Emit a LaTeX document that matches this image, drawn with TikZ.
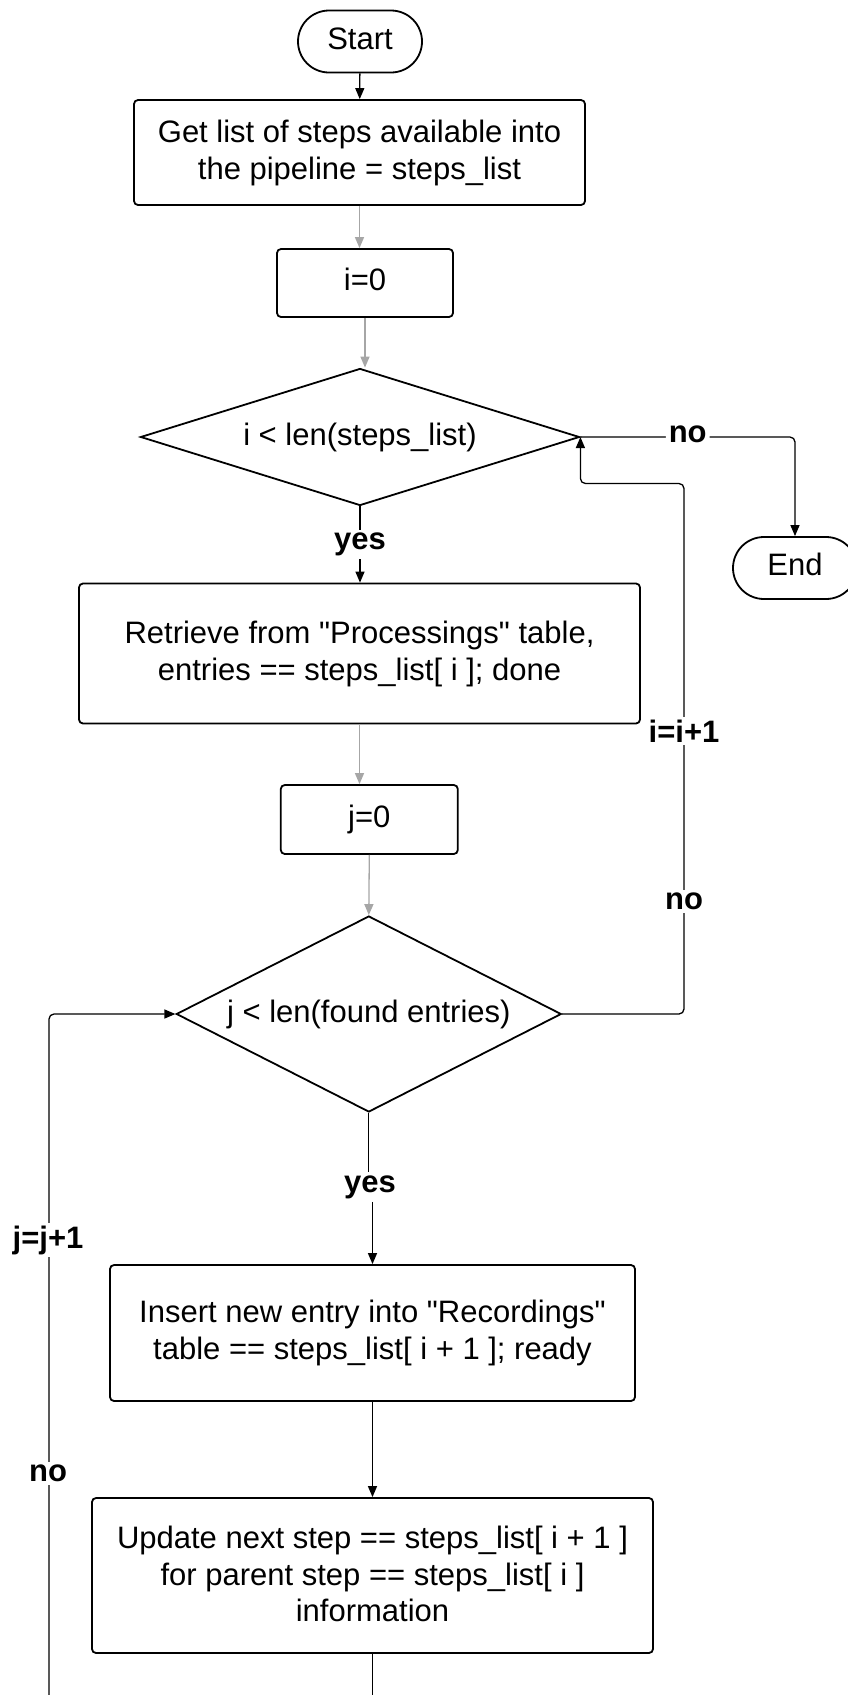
\documentclass[tikz,border=0pt]{standalone}
\usepackage{fontspec}
\setmainfont{Liberation Sans}[Ligatures=TeXOff]
\usetikzlibrary{shapes.geometric,arrows.meta}
\definecolor{arrowgray}{HTML}{A6A6A6}
\begin{document}
\begin{tikzpicture}[x=1pt,y=-1pt,
  every node/.style={font=\fontsize{31}{37}\selectfont},
  stepbox/.style={draw, line width=1.8pt, rounded corners=4pt, align=center, inner sep=0pt},
  oneline/.style={text height=23pt, text depth=8pt},
  terminal/.style={draw, line width=1.8pt, rounded corners=31pt, minimum width=124pt, minimum height=62pt, inner sep=0pt, oneline},
  decision/.style={draw, diamond, line width=1.8pt, inner sep=0pt, align=center},
  flow/.style={line width=1.3pt, -{Triangle[length=11pt,width=9pt]}},
  soft/.style={flow, draw=arrowgray},
  plain/.style={line width=1.3pt},
  lbl/.style={fill=white, font=\bfseries\fontsize{31}{37}\selectfont, inner sep=3pt}
]
\useasboundingbox (0,0) rectangle (848,1695);
\clip (0,0) rectangle (848,1695);

% nodes
\node[terminal] (start) at (360,41.5) {Start};
\node[stepbox, minimum width=451pt, minimum height=105pt] (getlist) at (359.5,152.5)
  {Get list of steps available into\\the pipeline = steps\_list};
\node[stepbox, oneline, minimum width=176pt, minimum height=68pt] (iinit) at (365,283) {i=0};
\node[decision, minimum width=439pt, minimum height=137pt, aspect=3.2] (iloop) at (360,437)
  {i < len(steps\_list)};
\node[terminal] (endn) at (795,568) {End};
\node[stepbox, minimum width=561pt, minimum height=140pt] (retrieve) at (359.5,653.5)
  {Retrieve from "Processings" table,\\entries == steps\_list[ i ]; done};
\node[stepbox, oneline, minimum width=177pt, minimum height=69pt] (jinit) at (369.3,819.5) {j=0};
\node[decision, minimum width=385pt, minimum height=196pt, aspect=2] (jloop) at (368.8,1014)
  {j < len(found entries)};
\node[stepbox, minimum width=525pt, minimum height=136pt] (insert) at (372.5,1333)
  {Insert new entry into "Recordings"\\table == steps\_list[ i + 1 ]; ready};
\node[stepbox, minimum width=561pt, minimum height=155pt, font=\fontsize{31}{36.6}\selectfont] (update) at (372.5,1575.5)
  {Update next step == steps\_list[ i + 1 ]\\for parent step == steps\_list[ i ]\\information\rule[-3pt]{0pt}{0pt}};

\coordinate (iret) at (684,483.5);
\coordinate (jback) at (49,1695);
\coordinate (tail) at (update.south |- jback);

% main column
\draw[flow] (start) -- (getlist);
\draw[soft] (getlist.south) -- (getlist.south |- iinit.north);
\draw[soft] (iinit.south) -- (iinit.south |- iloop.north);
\draw[flow] (iloop.south) -- node[lbl, midway] (yes1) {yes} (iloop.south |- retrieve.north);
\draw[soft] (retrieve.south) -- (retrieve.south |- jinit.north);
\draw[soft] (jinit.south) -- (jloop.north);
\node[lbl] (yes2) at (370,1187) {yes};
\draw[plain] (jloop.south) -- (jloop.south |- yes2.north);
\draw[flow] (insert.north |- yes2.south) -- (insert.north);
\draw[flow] (insert) -- (update);
\draw[plain] (update.south) -- (tail);

% exit to End
\draw[flow, rounded corners=5pt] (iloop.east) -| node[lbl, pos=0.25, yshift=3pt] (no1) {no} (endn.north);

% outer loop back to the i test
\draw[flow, rounded corners=5pt] (jloop.east) -| (iret) -| (iloop.east);
\node[lbl] (no2) at (684,901) {no};
\node[lbl] (iinc) at (684,731) {i=i+1};

% inner loop back to the j test
\draw[flow, rounded corners=5pt] (jback) |- (jloop.west);
\node[lbl] (jinc) at (48,1240) {j=j+1};
\node[lbl] (no3) at (48,1473) {no};
\end{tikzpicture}
\end{document}
